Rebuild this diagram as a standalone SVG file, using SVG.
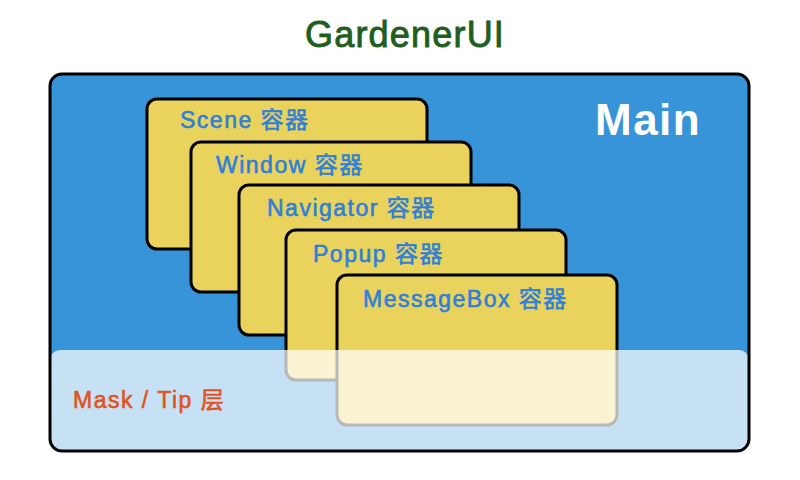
<svg xmlns="http://www.w3.org/2000/svg" width="800" height="480" viewBox="0 0 800 480">
<style>
.card{fill:#E9D35D;stroke:#000;stroke-width:3}
.lbl{font-family:"Liberation Sans","Noto Sans CJK SC",sans-serif;font-size:23px;fill:#2F7FD8;stroke:#2F7FD8;stroke-width:0.6;letter-spacing:1.5px}
</style>
<rect width="800" height="480" fill="#fff"/>
<g id="title"><text x="405" y="47" text-anchor="middle" font-family="Liberation Sans, sans-serif" font-size="36" fill="#1E5E1E" stroke="#1E5E1E" stroke-width="0.9" letter-spacing="1.2">GardenerUI</text></g>
<g id="main">
<rect x="50" y="74" width="699" height="377" rx="12" fill="#3894D8"/>
<text x="595" y="135" font-family="Liberation Sans, sans-serif" font-size="44" font-weight="bold" fill="#fff" letter-spacing="1.5">Main</text>
</g>
<g id="scene"><rect class="card" x="147" y="99" width="280" height="150" rx="10"/><text class="lbl" x="180" y="128">Scene 容器</text></g>
<g id="window"><rect class="card" x="191" y="142" width="280" height="150" rx="10"/><text class="lbl" x="216" y="173">Window 容器</text></g>
<g id="navigator"><rect class="card" x="239" y="185" width="280" height="150" rx="10"/><text class="lbl" x="267" y="216">Navigator 容器</text></g>
<g id="popup"><rect class="card" x="286" y="230" width="280" height="150" rx="10"/><text class="lbl" x="313" y="262">Popup 容器</text></g>
<g id="messagebox"><rect class="card" x="337" y="275" width="280" height="150" rx="10"/><text class="lbl" x="363" y="307">MessageBox 容器</text></g>
<g id="mask">
<rect x="50" y="350" width="699" height="101" rx="10" fill="#fff" fill-opacity="0.72"/>
<text x="73" y="408" font-family="Liberation Sans, Noto Sans CJK SC, sans-serif" font-size="23" fill="#E0531E" stroke="#E0531E" stroke-width="0.6" letter-spacing="1.5">Mask / Tip 层</text>
</g>
<rect x="50" y="74" width="699" height="377" rx="12" fill="none" stroke="#000" stroke-width="3"/>
</svg>
